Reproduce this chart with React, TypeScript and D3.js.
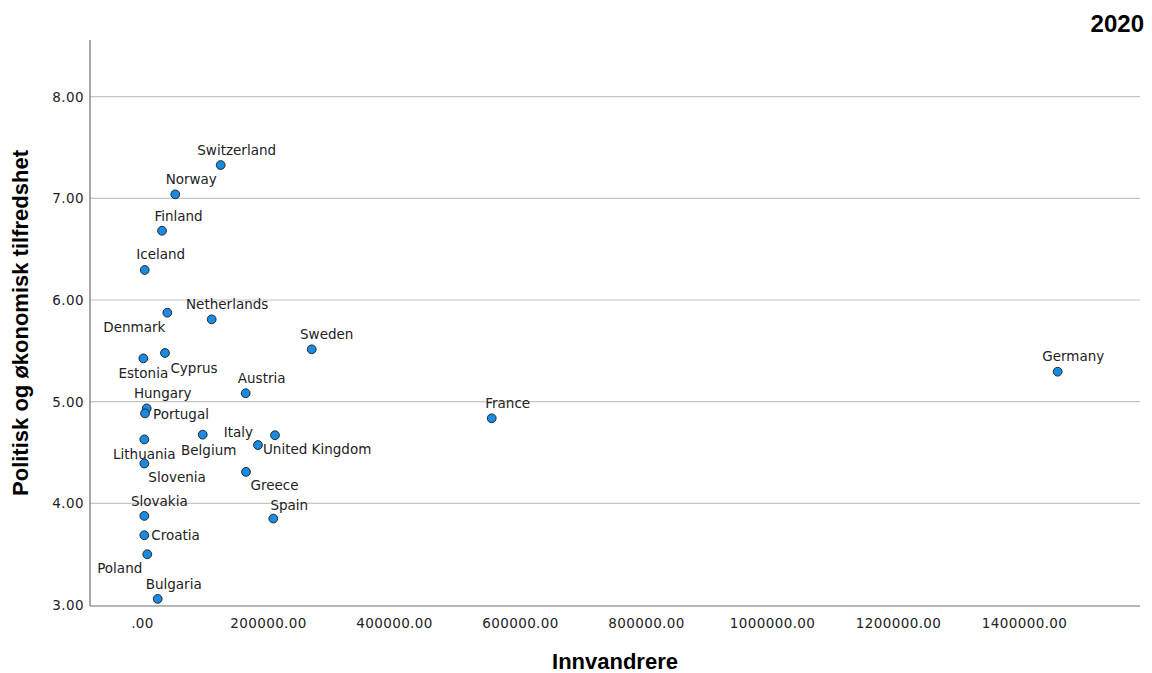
import React from "react";
import * as d3 from "d3";

const countries = ["Switzerland","Norway","Finland","Iceland","Denmark","Netherlands","Sweden","Estonia","Cyprus","Austria","Hungary","Portugal","Lithuania","Belgium","Italy","United Kingdom","Slovenia","Greece","Slovakia","Spain","Croatia","Poland","Bulgaria","France","Germany"];
const immigrants = [124100,52000,31000,3500,39400,109800,268600,1300,35700,163800,6700,4000,2900,95600,210300,183300,2900,164300,2900,207600,2900,7600,24100,554300,1452700];
const satisfaction = [7.327,7.039,6.681,6.295,5.875,5.81,5.515,5.426,5.479,5.083,4.934,4.885,4.629,4.676,4.67,4.574,4.392,4.31,3.877,3.851,3.687,3.5,3.061,4.837,5.295];
const xTicks = [0,200000,400000,600000,800000,1000000,1200000,1400000];
const yTicks = [3,4,5,6,7,8];
const chartTitle = "2020";
const xTitle = "Innvandrere";
const yTitle = "Politisk og økonomisk tilfredshet";

// label placement: [anchor, dx, dy] relative to point centre (layout only)
const labelPlacement: Record<string, [string, number, number]> = {
  "Switzerland": ["middle", 16, -15],
  "Norway": ["middle", 16, -15],
  "Finland": ["middle", 16.5, -15],
  "Iceland": ["middle", 16, -16],
  "Denmark": ["end", -2, 14],
  "Netherlands": ["middle", 15.5, -15],
  "Sweden": ["middle", 15, -15],
  "Estonia": ["middle", 0, 15],
  "Cyprus": ["middle", 29, 15],
  "Austria": ["middle", 16, -15],
  "Hungary": ["middle", 16, -15],
  "Portugal": ["start", 8, 0.6],
  "Lithuania": ["middle", 0, 15],
  "Belgium": ["middle", 6, 15],
  "Italy": ["end", -22, -3.6],
  "United Kingdom": ["start", 5, 4.3],
  "Slovenia": ["start", 4, 13.4],
  "Greece": ["middle", 28.5, 13.3],
  "Slovakia": ["middle", 15, -15],
  "Spain": ["middle", 16, -14],
  "Croatia": ["start", 7, 0],
  "Poland": ["end", -5, 13.7],
  "Bulgaria": ["middle", 16, -14.4],
  "France": ["middle", 16, -15.6],
  "Germany": ["middle", 15.6, -15.7],
};

const W = 1152, H = 673;
const left = 90, right = 1140, top = 40, bottom = 606;

const fmt = (v: number) => (v === 0 ? ".00" : v.toFixed(2));

export default function App() {
  const x = d3.scaleLinear().domain([0, 1400000]).range([142.5, 1024.5]);
  const y = d3.scaleLinear().domain([3, 8]).range([605.1, 96.6]);
  const labelFont = "'DejaVu Sans', sans-serif";
  return (
    <svg width={W} height={H} style={{ position: "absolute", left: 0, top: 0, background: "#fff" }}>
      <rect x={0} y={0} width={W} height={H} fill="#fff" />
      {yTicks.filter(t => t > 3).map(t => (
        <line key={t} x1={left} x2={right} y1={y(t)} y2={y(t)} stroke="#c4c4c4" strokeWidth={1.2} />
      ))}
      <line x1={left} x2={left} y1={top} y2={bottom} stroke="#6e6e6e" strokeWidth={1.2} />
      <line x1={left} x2={right} y1={bottom} y2={bottom} stroke="#6e6e6e" strokeWidth={1.2} />
      {yTicks.map(t => (
        <text key={t} x={84} y={y(t) + 5} textAnchor="end" fontFamily={labelFont} fontSize={13.5} letterSpacing={0.4} fill="#222">{fmt(t)}</text>
      ))}
      {xTicks.map(t => (
        <text key={t} x={x(t)} y={628} textAnchor="middle" fontFamily={labelFont} fontSize={13.5} letterSpacing={0.4} fill="#222">{fmt(t)}</text>
      ))}
      {countries.map((c, i) => {
        const px = x(immigrants[i]);
        const py = y(satisfaction[i]);
        const [anchor, dx, dy] = labelPlacement[c];
        return (
          <g key={c}>
            <circle cx={px} cy={py} r={4.4} fill="#1a8be2" stroke="#1a1a1a" strokeWidth={0.9} />
            <text x={px + dx} y={py + dy + 5} textAnchor={anchor as any} fontFamily={labelFont} fontSize={13.5} fill="#222">{c}</text>
          </g>
        );
      })}
      <text x={1144} y={31.5} textAnchor="end" fontFamily="'Liberation Sans', Arial, sans-serif" fontWeight="bold" fontSize={24} fill="#000">{chartTitle}</text>
      <text x={615} y={669} textAnchor="middle" fontFamily="'Liberation Sans', Arial, sans-serif" fontWeight="bold" fontSize={22} fill="#000">{xTitle}</text>
      <text transform={`translate(28,323) rotate(-90)`} textAnchor="middle" fontFamily="'Liberation Sans', Arial, sans-serif" fontWeight="bold" fontSize={22} fill="#000">{yTitle}</text>
    </svg>
  );
}
